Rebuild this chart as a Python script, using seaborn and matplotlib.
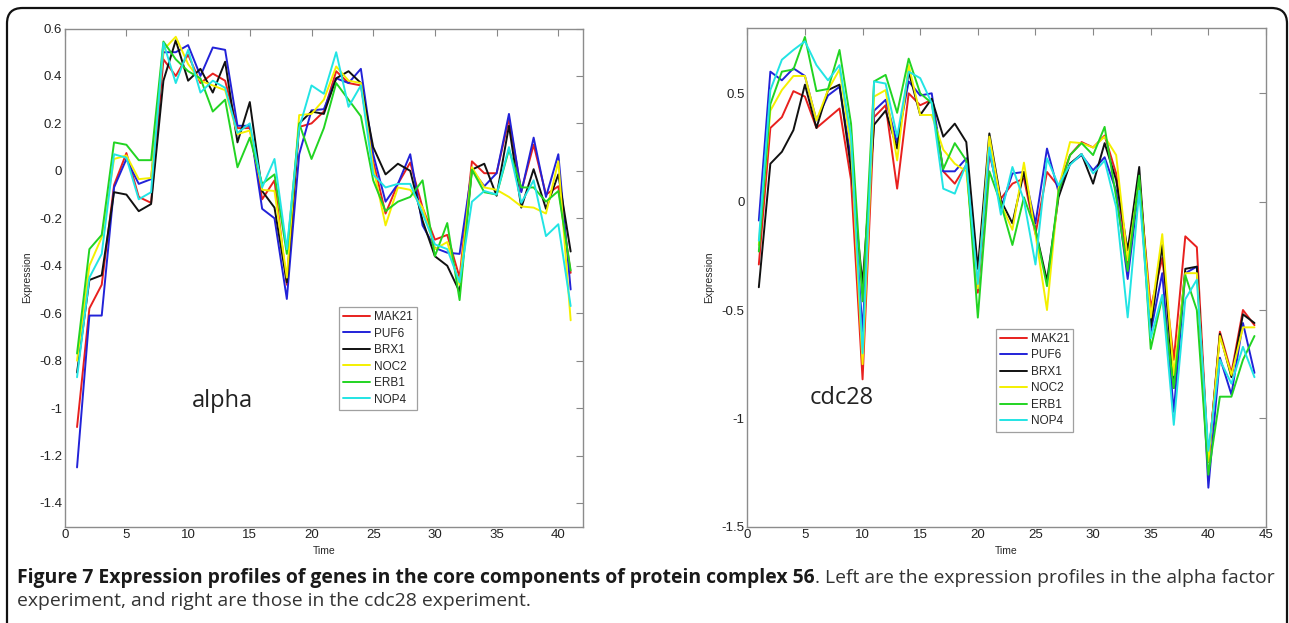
import numpy as np
import pandas as pd
import matplotlib as mpl
mpl.use('Agg')
import matplotlib.pyplot as plt
from matplotlib.patches import FancyBboxPatch
import seaborn as sns

sns.set_style('white')
plt.rcParams['font.family'] = ['Liberation Sans', 'DejaVu Sans']

genes = ['MAK21', 'PUF6', 'BRX1', 'NOC2', 'ERB1', 'NOP4']
colors = {'MAK21': '#e8201e', 'PUF6': '#2222d8', 'BRX1': '#111111',
          'NOC2': '#f4f000', 'ERB1': '#22d422', 'NOP4': '#22e4e4'}

# alpha factor experiment, time 1..41
alpha_mak21 = [-1.08, -0.58, -0.48, -0.06, 0.075, -0.11, -0.135, 0.47, 0.4, 0.49,
               0.37, 0.41, 0.38, 0.18, 0.18, -0.12, -0.04, -0.48, 0.185, 0.2,
               0.25, 0.42, 0.37, 0.36, 0.04, -0.18, -0.055, 0.035, -0.155, -0.29,
               -0.27, -0.45, 0.04, -0.01, -0.01, 0.22, -0.085, 0.11, -0.1, -0.065,
               -0.43]
alpha_puf6 = [-1.25, -0.61, -0.61, -0.07, 0.05, -0.055, -0.035, 0.5, 0.5, 0.53,
              0.4, 0.52, 0.51, 0.19, 0.19, -0.16, -0.2, -0.54, 0.07, 0.255,
              0.26, 0.39, 0.37, 0.43, 0.07, -0.13, -0.055, 0.07, -0.23, -0.325,
              -0.345, -0.35, 0.005, -0.065, -0.01, 0.24, -0.09, 0.14, -0.11, 0.07,
              -0.5]
alpha_brx1 = [-0.85, -0.46, -0.44, -0.09, -0.1, -0.17, -0.14, 0.38, 0.55, 0.38,
              0.43, 0.33, 0.46, 0.12, 0.29, -0.085, -0.155, -0.47, 0.2, 0.25,
              0.24, 0.39, 0.42, 0.37, 0.1, -0.015, 0.03, 0.0, -0.21, -0.36,
              -0.4, -0.51, 0.005, 0.03, -0.105, 0.19, -0.155, 0.007, -0.16, -0.015,
              -0.34]
alpha_noc2 = [-0.8, -0.4, -0.28, 0.05, 0.065, -0.035, -0.03, 0.51, 0.565, 0.45,
              0.38, 0.36, 0.34, 0.155, 0.17, -0.08, -0.085, -0.45, 0.235, 0.24,
              0.3, 0.44, 0.38, 0.37, 0.015, -0.23, -0.07, -0.08, -0.155, -0.33,
              -0.3, -0.48, 0.015, -0.07, -0.08, -0.11, -0.15, -0.155, -0.18, 0.04,
              -0.63]
alpha_erb1 = [-0.77, -0.33, -0.27, 0.12, 0.11, 0.045, 0.045, 0.545, 0.47, 0.42,
              0.39, 0.25, 0.3, 0.015, 0.14, -0.055, -0.015, -0.35, 0.2, 0.05,
              0.18, 0.37, 0.3, 0.23, -0.04, -0.17, -0.13, -0.11, -0.04, -0.36,
              -0.22, -0.545, 0.005, -0.09, -0.1, 0.09, -0.07, -0.07, -0.13, -0.085,
              -0.42]
alpha_nop4 = [-0.87, -0.45, -0.35, 0.07, 0.055, -0.12, -0.09, 0.54, 0.37, 0.51,
              0.33, 0.38, 0.35, 0.16, 0.2, -0.07, 0.05, -0.33, 0.18, 0.36,
              0.325, 0.5, 0.27, 0.36, -0.015, -0.07, -0.055, -0.055, -0.18, -0.31,
              -0.33, -0.47, -0.13, -0.085, -0.1, 0.1, -0.135, -0.04, -0.275, -0.225,
              -0.57]

# cdc28 experiment, time 1..44
cdc_mak21 = [-0.29, 0.34, 0.39, 0.51, 0.485, 0.34, 0.385, 0.43, 0.1, -0.82,
             0.39, 0.445, 0.06, 0.5, 0.445, 0.47, 0.14, 0.083, 0.17, -0.42,
             0.22, 0.014, 0.083, 0.107, -0.15, 0.137, 0.07, 0.215, 0.275, 0.25,
             0.305, 0.13, -0.3, 0.1, -0.49, -0.26, -0.73, -0.16, -0.21, -1.2,
             -0.6, -0.79, -0.5, -0.57]
cdc_puf6 = [-0.087, 0.6, 0.56, 0.615, 0.58, 0.375, 0.49, 0.53, 0.2, -0.6,
            0.42, 0.47, 0.27, 0.555, 0.49, 0.5, 0.14, 0.14, 0.2, -0.4,
            0.24, -0.03, 0.13, 0.137, -0.1, 0.245, 0.045, 0.175, 0.215, 0.145,
            0.205, 0.05, -0.357, 0.08, -0.6, -0.33, -0.97, -0.33, -0.3, -1.32,
            -0.72, -0.89, -0.56, -0.79]
cdc_brx1 = [-0.395, 0.175, 0.23, 0.33, 0.54, 0.34, 0.515, 0.54, 0.15, -0.38,
            0.355, 0.42, 0.245, 0.6, 0.4, 0.475, 0.3, 0.36, 0.275, -0.31,
            0.315, 0.006, -0.1, 0.137, -0.13, -0.365, 0.02, 0.175, 0.22, 0.083,
            0.27, 0.1, -0.225, 0.16, -0.58, -0.2, -0.86, -0.31, -0.3, -1.2,
            -0.61, -0.81, -0.52, -0.56]
cdc_noc2 = [-0.2, 0.42, 0.515, 0.58, 0.58, 0.375, 0.515, 0.61, 0.25, -0.75,
            0.485, 0.515, 0.19, 0.63, 0.4, 0.4, 0.24, 0.175, 0.14, -0.4,
            0.3, -0.01, -0.13, 0.18, -0.15, -0.5, 0.06, 0.275, 0.27, 0.25,
            0.3, 0.215, -0.27, 0.1, -0.535, -0.15, -0.8, -0.33, -0.33, -1.2,
            -0.62, -0.8, -0.58, -0.58]
cdc_erb1 = [-0.23, 0.45, 0.6, 0.61, 0.76, 0.51, 0.52, 0.7, 0.36, -0.46,
            0.555, 0.585, 0.41, 0.66, 0.5, 0.455, 0.15, 0.27, 0.19, -0.535,
            0.14, -0.01, -0.2, 0.02, -0.13, -0.39, 0.045, 0.215, 0.27, 0.215,
            0.345, 0.02, -0.32, 0.12, -0.68, -0.44, -0.86, -0.34, -0.5, -1.26,
            -0.9, -0.9, -0.73, -0.62]
cdc_nop4 = [-0.18, 0.515, 0.655, 0.7, 0.74, 0.63, 0.56, 0.63, 0.3, -0.7,
            0.555, 0.545, 0.3, 0.6, 0.57, 0.455, 0.06, 0.037, 0.175, -0.38,
            0.25, -0.06, 0.16, 0.006, -0.29, 0.2, 0.075, 0.17, 0.22, 0.13,
            0.19, -0.025, -0.534, 0.05, -0.63, -0.43, -1.03, -0.45, -0.36, -1.15,
            -0.73, -0.84, -0.67, -0.81]

alpha_ticks_y = [-1.4, -1.2, -1, -0.8, -0.6, -0.4, -0.2, 0, 0.2, 0.4, 0.6]
cdc_ticks_y = [-1.5, -1, -0.5, 0, 0.5]


def long_df(series):
    rows = []
    for gene, vals in zip(genes, series):
        for i, v in enumerate(vals):
            rows.append({'Time': i + 1, 'Expression': v, 'gene': gene})
    return pd.DataFrame(rows)


df_alpha = long_df([alpha_mak21, alpha_puf6, alpha_brx1, alpha_noc2,
                    alpha_erb1, alpha_nop4])
df_cdc = long_df([cdc_mak21, cdc_puf6, cdc_brx1, cdc_noc2,
                  cdc_erb1, cdc_nop4])

W, H = 1289, 623
fig = plt.figure(figsize=(W / 100, H / 100), dpi=100)

ax_a = fig.add_axes([64.7 / W, 1 - 526.7 / H, 518.3 / W, 498.2 / H])
ax_c = fig.add_axes([747.3 / W, 1 - 526.7 / H, 518.7 / W, 498.4 / H])

for t_ax, t_df, xlim, ylim, xticks, yticks, leg_xy, txt, txt_xy in [
        (ax_a, df_alpha, (0, 42), (-1.5, 0.6), range(0, 41, 5), alpha_ticks_y,
         (0.529, 0.441), 'alpha', (12.8, -0.97)),
        (ax_c, df_cdc, (0, 45), (-1.5, 0.8), range(0, 46, 5), cdc_ticks_y,
         (0.479, 0.397), 'cdc28', (8.2, -0.906))]:
    sns.lineplot(data=t_df, x='Time', y='Expression', hue='gene',
                 hue_order=genes, palette=colors, lw=1.4, ax=t_ax,
                 estimator=None, sort=False)
    t_ax.set_xlim(*xlim)
    t_ax.set_ylim(*ylim)
    t_ax.set_xticks(list(xticks))
    t_ax.set_yticks(yticks)
    t_ax.set_yticklabels(['%g' % v for v in yticks])
    t_ax.tick_params(direction='in', length=5, width=0.8, color='#888888',
                     top=True, right=True, labelsize=9.5, pad=2,
                     labelcolor='#222222')
    for sp in t_ax.spines.values():
        sp.set_color('#8c8c8c')
        sp.set_linewidth(1.0)
    t_ax.set_xlabel('Time', fontsize=7.5, labelpad=3)
    t_ax.set_ylabel('Expression', fontsize=7.5, labelpad=5)
    handles, labels = t_ax.get_legend_handles_labels()
    leg = t_ax.legend(handles, labels, loc='upper left', bbox_to_anchor=leg_xy,
                      fontsize=8.5, frameon=True, fancybox=False,
                      handlelength=2.3, handletextpad=0.3, labelspacing=0.38,
                      borderpad=0.35, borderaxespad=0)
    leg.get_frame().set_edgecolor('#888888')
    leg.get_frame().set_linewidth(0.9)
    t_ax.text(txt_xy[0], txt_xy[1], txt, fontsize=17, ha='center',
              va='center', color='#222222', family=['Open Sans', 'DejaVu Sans'])

# rounded frame, right and bottom edges run off the picture
frame = FancyBboxPatch((7 / W, -20 / H), 1280 / W, 635 / H,
                       boxstyle='round,pad=0,rounding_size=0.012',
                       transform=fig.transFigure, fill=False,
                       edgecolor='#111111', lw=1.6, mutation_aspect=W / H)
fig.patches.append(frame)

# caption, sized to the width of the reference line
cap_font = ['Open Sans', 'DejaVu Sans']
bold_str = 'Figure 7 Expression profiles of genes in the core components of protein complex 56'
reg_str = '. Left are the expression profiles in the alpha factor'
line2 = 'experiment, and right are those in the cdc28 experiment.'

fig.canvas.draw()
r = fig.canvas.get_renderer()
fs0 = 12
t1 = fig.text(17 / W, 1 - 583 / H, bold_str, fontsize=fs0, fontweight='bold',
              family=cap_font, color='#1a1a1a', va='baseline')
t2 = fig.text(0, 1 - 583 / H, reg_str, fontsize=fs0, family=cap_font,
              color='#333333', va='baseline')
w1 = t1.get_window_extent(r).width
w2 = t2.get_window_extent(r).width
fs = fs0 * 1253 / (w1 + w2)
t1.set_fontsize(fs)
t2.set_fontsize(fs)
w1 = t1.get_window_extent(r).width
t2.set_x((17 + w1) / W)
fig.text(17 / W, 1 - 606 / H, line2, fontsize=fs, family=cap_font,
         color='#333333', va='baseline')

fig.savefig('out.png', dpi=100)
